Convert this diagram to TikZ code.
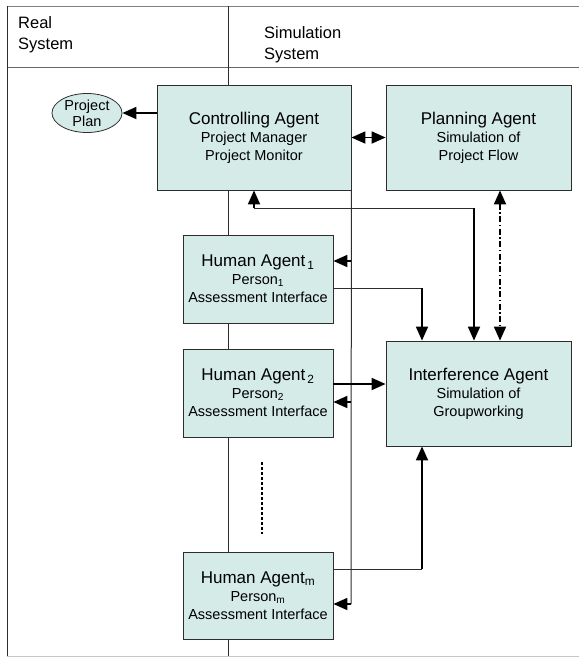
\documentclass[tikz,border=0pt]{standalone}
\usepackage{fontspec}
\setmainfont{Liberation Sans}
\usetikzlibrary{shapes.geometric,arrows.meta}
\definecolor{agentfill}{RGB}{212,235,231}
\definecolor{edge}{RGB}{45,45,45}
\newcommand{\ttl}[1]{{\fontsize{17}{20}\selectfont #1}}

\begin{document}
\begin{tikzpicture}[
  x=1pt, y=-1pt,
  agent/.style={draw=edge, fill=agentfill, line width=0.8pt, align=center,
    font=\fontsize{14.5}{18}\selectfont, inner sep=0pt},
  wire/.style={draw=edge, line width=1pt},
  flow/.style={draw=black, line width=1.8pt, -{Triangle[length=14pt,width=12pt]}},
  flowback/.style={draw=black, line width=1.8pt, {Triangle[length=14pt,width=12pt]}-},
  flowboth/.style={draw=black, line width=1.8pt,
    {Triangle[length=14pt,width=12pt]}-{Triangle[length=14pt,width=12pt]}},
  header/.style={anchor=north west, inner sep=0pt, align=left,
    font=\fontsize{16.5}{21.5}\selectfont},
]
\useasboundingbox (0,0) rectangle (579,657);

\draw[gray, line width=0.9pt] (7,6) -- (579,6);
\draw[gray!80!black, line width=0.9pt] (7,67) -- (579,67);
\draw[edge, line width=0.8pt] (7,6) -- (7,656);
\draw[gray!45, line width=0.9pt] (7,656) -- (579,656);
\draw[edge, line width=1pt] (228,6) -- (228,656);

\node[header] (real) at (18,16) {Real\\System};
\node[header] (sim) at (264,26) {Simulation\\System};

\node[agent, ellipse, minimum width=70, minimum height=39,
  font=\fontsize{14.5}{16}\selectfont] (pplan) at (87,113) {Project\\Plan};

\node[agent, minimum width=194, minimum height=105] (ctrl) at (254,137.5)
  {\ttl{Controlling Agent}\\Project Manager\\Project Monitor};
\node[agent, minimum width=185, minimum height=105] (plan) at (478.5,137.5)
  {\ttl{Planning Agent}\\Simulation of\\Project Flow};
\node[agent, minimum width=185, minimum height=105] (interf) at (478.5,393.5)
  {\ttl{Interference Agent}\\Simulation of\\Groupworking};
\node[agent, minimum width=150, minimum height=88] (human1) at (258,279)
  {\ttl{Human Agent\textsubscript{\,1}}\\Person\textsubscript{1}\\Assessment Interface};
\node[agent, minimum width=150, minimum height=88] (human2) at (258,393)
  {\ttl{Human Agent\textsubscript{\,2}}\\Person\textsubscript{2}\\Assessment Interface};
\node[agent, minimum width=150, minimum height=87] (humanm) at (258,595.5)
  {\ttl{Human Agent\textsubscript{m}}\\Person\textsubscript{m}\\Assessment Interface};

\coordinate (c1) at (474,208);
\coordinate (pd) at (500,0);
\coordinate (j1) at (422,0);
\coordinate (bus) at (351,604);
\coordinate (h1in) at ([yshift=18pt]human1.east);
\coordinate (h1out) at ([yshift=-9pt]human1.east);
\coordinate (h2in) at ([yshift=-9pt]human2.east);
\coordinate (h2out) at ([yshift=9pt]human2.east);
\coordinate (hmin) at ([yshift=-8.5pt]humanm.east);
\coordinate (hmout) at ([yshift=26.5pt]humanm.east);

\draw[flow] (ctrl.west |- pplan.east) -- (pplan.east);
\draw[flowboth] (ctrl.east) -- (plan.west);

\draw[flowback] (ctrl.south) -- (ctrl.south |- c1);
\draw[wire] (ctrl.south |- c1) -- (c1);
\draw[flow] (c1) -- (c1 |- interf.north);

\draw[flowboth, dash pattern=on 6pt off 2.5pt on 1.5pt off 2.5pt]
  (plan.south -| pd) -- (interf.north -| pd);

\draw[wire] (ctrl.south east) -- (bus);
\draw[flow] (bus |- h1in) -- (h1in);
\draw[flow] (bus |- h2in) -- (h2in);
\draw[flow] (bus) -- (hmin);

\draw[wire] (h1out) -- (h1out -| j1);
\draw[flow] (h1out -| j1) -- (j1 |- interf.north);
\draw[flow] (h2out) -- (h2out -| interf.west);
\draw[wire] (hmout) -- (hmout -| j1);
\draw[flow] (hmout -| j1) -- (j1 |- interf.south);

\draw[black, line width=1.2pt, dash pattern=on 3pt off 2pt]
  ([xshift=4pt,yshift=-25pt]human2.south) -- ([xshift=4pt,yshift=18pt]humanm.north);
\end{tikzpicture}
\end{document}
